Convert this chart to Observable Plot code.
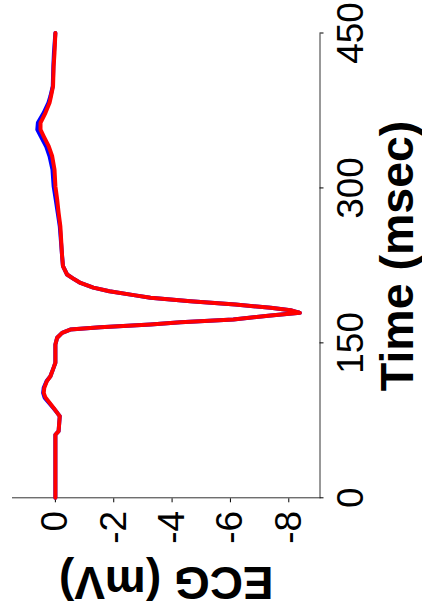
<!DOCTYPE html>
<html>
<head>
<meta charset="utf-8">
<script src="https://cdn.jsdelivr.net/npm/d3@7"></script>
<script src="https://cdn.jsdelivr.net/npm/@observablehq/plot@0.6"></script>
<style>
  html, body { margin: 0; padding: 0; background: white; }
  #page { position: relative; width: 422px; height: 614px; overflow: hidden; background: white; }
  #chart { position: absolute; left: 0; top: 0; width: 614px; height: 422px;
           transform-origin: 0 0; transform: translate(0px, 614px) rotate(-90deg); }
  #chart svg { max-width: none !important; display: block; }
</style>
</head>
<body>
<div id="page"><div id="chart"></div></div>
<script>
// Time (msec) and ECG (mV)
const timeMs = [0, 20, 40, 61, 64.5, 79, 82, 87, 97, 101.6, 106.5, 113, 117.7, 126, 130.7, 148.4, 155, 159.7, 162.9, 165.2, 167.8, 170, 172.6, 176.5, 179.1, 181.6, 183.9, 187.1, 190.3, 193.6, 196, 200, 203.5, 208, 211.5, 216.2, 224.2, 234, 263, 276, 289, 301.7, 317.8, 330.7, 340.4, 350, 356.5, 363, 372.7, 382.4, 388.8, 398.5, 417.8, 430.8, 450];
const ecgRed = [0, 0, 0, 0, -0.11, -0.15, -0.07, 0.06, 0.34, 0.4, 0.38, 0.29, 0.17, 0.06, 0, 0, -0.06, -0.23, -0.51, -1.54, -3.26, -4.29, -6.1, -7.38, -8.38, -8.06, -7.38, -6.17, -4.63, -3.26, -2.74, -1.85, -1.3, -0.86, -0.65, -0.4, -0.26, -0.23, -0.17, -0.11, -0.06, 0, 0.03, 0.11, 0.23, 0.4, 0.51, 0.51, 0.34, 0.2, 0.15, 0.08, 0.06, 0.03, 0];
const ecgBlue = [0, 0, 0, 0, -0.11, -0.15, -0.07, 0.07, 0.37, 0.42, 0.4, 0.3, 0.17, 0.06, 0, 0, -0.06, -0.23, -0.51, -1.54, -3.26, -4.29, -6.1, -7.38, -8.38, -8.06, -7.38, -6.17, -4.63, -3.26, -2.74, -1.85, -1.3, -0.86, -0.65, -0.4, -0.26, -0.23, -0.15, -0.08, -0.01, 0.06, 0.1, 0.2, 0.32, 0.5, 0.62, 0.6, 0.4, 0.24, 0.17, 0.09, 0.07, 0.05, 0];
const timeTicks = [0, 150, 300, 450];
const ecgTicks = [0, -2, -4, -6, -8];
const xTitle = "Time (msec)";
const yTitle = "ECG (mV)";

const red = timeMs.map((t, i) => ({t, v: ecgRed[i]}));
const blue = timeMs.map((t, i) => ({t, v: ecgBlue[i]}));
const yDomain = [-9.07, 1.47];

const chart = Plot.plot({
  width: 614,
  height: 422,
  marginLeft: 115.7,
  marginRight: 33.5,
  marginTop: 12,
  marginBottom: 102.5,
  style: {fontFamily: "'Liberation Sans', Arial, sans-serif", background: "white", color: "black"},
  x: {domain: [0, 450]},
  y: {domain: yDomain},
  marks: [
    Plot.ruleX([0], {stroke: "#333", strokeWidth: 1}),
    Plot.ruleY([yDomain[0]], {stroke: "#333", strokeWidth: 1}),
    Plot.axisX({ticks: timeTicks, tickSize: 4, tickPadding: 13, fontSize: 37, label: null, tickFormat: d => String(d)}),
    Plot.axisY({ticks: ecgTicks, tickSize: 4, tickPadding: 9, fontSize: 37, label: null, tickFormat: d => String(d)}),
    Plot.line(blue, {x: "t", y: "v", stroke: "blue", strokeWidth: 4, strokeLinejoin: "round"}),
    Plot.line(red, {x: "t", y: "v", stroke: "red", strokeWidth: 4, strokeLinejoin: "round"}),
    Plot.text([xTitle], {text: d => d, frameAnchor: "bottom", dx: 9.5, dy: 78.5, textAnchor: "middle", lineAnchor: "middle", fontSize: 46.5, fontWeight: "bold", fill: "black"}),
    Plot.text([yTitle], {text: d => d, frameAnchor: "left", dx: -83.7, rotate: -90, textAnchor: "middle", lineAnchor: "middle", fontSize: 46, fontWeight: "bold", fill: "black"})
  ]
});
document.getElementById("chart").appendChild(chart);
</script>
</body>
</html>
